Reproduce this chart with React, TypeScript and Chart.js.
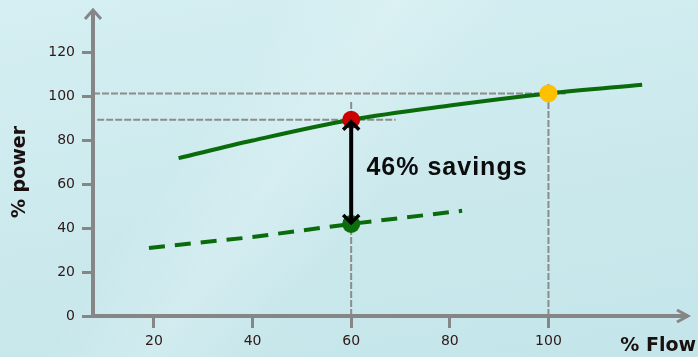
import React, { useEffect, useRef } from "react";
import { Chart, registerables } from "chart.js";

Chart.register(...registerables);

// Throttled (valve) operation: % power against % flow
const flowThrottle = [25, 40, 60, 80, 100, 119];
const powerThrottle = [72, 80, 89.5, 96, 101.5, 105.5];

// Variable-speed operation: % power against % flow
const flowVsd = [19, 40, 60, 82.5];
const powerVsd = [31, 36, 42, 48];

// Marked operating points
const markerFlow = [60, 60, 100];
const markerPower = [89.5, 42, 101.5];
const markerColors = ["#cc0000", "#0b6e0b", "#ffc000"];

const xTicks = [20, 40, 60, 80, 100];
const yTicks = [0, 20, 40, 60, 80, 100, 120];

const savingsLabel = "46% savings";
const xTitle = "% Flow";
const yTitle = "% power";

const GREEN = "#0a6b0a";
const AXIS = "#868686";
const TICK_TEXT = "#2e1818";

const overlay = {
  id: "overlay",
  beforeDatasetsDraw(chart: any) {
    const { ctx } = chart;
    const xs = chart.scales.x;
    const ys = chart.scales.y;
    const ca = chart.chartArea;
    ctx.save();
    // dashed reference lines
    ctx.strokeStyle = "#8c8c8c";
    ctx.lineWidth = 2;
    ctx.setLineDash([7, 2]);
    const seg = (x1: number, y1: number, x2: number, y2: number) => {
      ctx.beginPath();
      ctx.moveTo(xs.getPixelForValue(x1), ys.getPixelForValue(y1));
      ctx.lineTo(xs.getPixelForValue(x2), ys.getPixelForValue(y2));
      ctx.stroke();
    };
    seg(xs.min, markerPower[2], 103.5, markerPower[2]);
    seg(8.5, markerPower[0], 69, markerPower[0]);
    seg(markerFlow[0], 0, markerFlow[0], 98);
    seg(markerFlow[2], 0, markerFlow[2], 106);
    ctx.setLineDash([]);

    // axes with arrowheads
    ctx.strokeStyle = AXIS;
    ctx.lineWidth = 4;
    ctx.lineCap = "butt";
    ctx.beginPath();
    ctx.moveTo(ca.left, ca.bottom + 2);
    ctx.lineTo(ca.left, ca.top + 1);
    ctx.moveTo(ca.left - 2, ca.bottom);
    ctx.lineTo(ca.right - 1, ca.bottom);
    ctx.stroke();
    ctx.lineWidth = 3;
    ctx.lineJoin = "miter";
    ctx.beginPath();
    ctx.moveTo(ca.left - 8, ca.top + 10);
    ctx.lineTo(ca.left, ca.top + 1);
    ctx.lineTo(ca.left + 8, ca.top + 10);
    ctx.moveTo(ca.right - 12, ca.bottom - 6);
    ctx.lineTo(ca.right - 1, ca.bottom);
    ctx.lineTo(ca.right - 12, ca.bottom + 6);
    ctx.stroke();
    ctx.restore();
  },
  afterDatasetsDraw(chart: any) {
    const { ctx } = chart;
    const xs = chart.scales.x;
    const ys = chart.scales.y;
    ctx.save();
    // double-headed arrow between the two operating points
    const ax = xs.getPixelForValue(markerFlow[0]);
    const top = ys.getPixelForValue(markerPower[0]) + 2;
    const bot = ys.getPixelForValue(markerPower[1]) - 1;
    ctx.strokeStyle = "#000";
    ctx.lineWidth = 4;
    ctx.lineCap = "butt";
    ctx.beginPath();
    ctx.moveTo(ax, top + 2);
    ctx.lineTo(ax, bot - 2);
    ctx.stroke();
    ctx.lineWidth = 3.5;
    ctx.beginPath();
    ctx.moveTo(ax - 8, top + 8);
    ctx.lineTo(ax, top);
    ctx.lineTo(ax + 8, top + 8);
    ctx.moveTo(ax - 8, bot - 8);
    ctx.lineTo(ax, bot);
    ctx.lineTo(ax + 8, bot - 8);
    ctx.stroke();

    // annotation text
    ctx.fillStyle = "#0c0c0c";
    ctx.font = "bold 25px 'Liberation Sans', Arial, sans-serif";
    (ctx as any).letterSpacing = "1px";
    ctx.textAlign = "left";
    ctx.textBaseline = "middle";
    ctx.fillText(savingsLabel, xs.getPixelForValue(63.1), ys.getPixelForValue(67.3));
    (ctx as any).letterSpacing = "0px";

    // axis titles
    ctx.fillStyle = "#1a1010";
    ctx.font = "bold 19px 'DejaVu Sans', sans-serif";
    ctx.textAlign = "right";
    ctx.textBaseline = "middle";
    ctx.fillText(xTitle, 696, 346);
    ctx.translate(20, 172);
    ctx.rotate(-Math.PI / 2);
    ctx.textAlign = "center";
    ctx.fillText(yTitle, 0, 0);
    ctx.restore();
  },
};

export default function App() {
  const ref = useRef<HTMLCanvasElement | null>(null);

  useEffect(() => {
    if (!ref.current) return;
    const chart = new Chart(ref.current, {
      type: "line",
      data: {
        datasets: [
          {
            label: "Throttled",
            data: flowThrottle.map((x, i) => ({ x, y: powerThrottle[i] })),
            borderColor: GREEN,
            borderWidth: 4,
            pointRadius: 0,
            cubicInterpolationMode: "monotone",
            order: 3,
          },
          {
            label: "Variable speed",
            data: flowVsd.map((x, i) => ({ x, y: powerVsd[i] })),
            borderColor: GREEN,
            borderWidth: 4,
            borderDash: [16, 10],
            pointRadius: 0,
            order: 2,
          },
          {
            label: "Operating points",
            data: markerFlow.map((x, i) => ({ x, y: markerPower[i] })),
            showLine: false,
            pointRadius: 9,
            pointBackgroundColor: markerColors,
            pointBorderWidth: 0,
            order: 1,
          },
        ],
      },
      options: {
        animation: false,
        responsive: true,
        maintainAspectRatio: false,
        layout: { padding: { top: 8, right: 8, left: 0, bottom: 0 } },
        plugins: { legend: { display: false }, tooltip: { enabled: false } },
        scales: {
          x: {
            type: "linear",
            min: 7.65,
            max: 128.5,
            afterFit: (s: any) => {
              s.height = 41;
              s.paddingLeft = 0;
              s.paddingRight = 0;
            },
            afterBuildTicks: (s: any) => {
              s.ticks = xTicks.map((v) => ({ value: v }));
            },
            border: { display: false },
            grid: {
              drawOnChartArea: false,
              drawTicks: true,
              tickLength: 12,
              tickColor: AXIS,
              lineWidth: 3,
            },
            ticks: {
              padding: 5,
              color: TICK_TEXT,
              font: { family: "'DejaVu Sans', sans-serif", size: 14 },
              maxRotation: 0,
            },
          },
          y: {
            type: "linear",
            min: 0,
            max: 140,
            afterFit: (s: any) => {
              s.width = 93;
              s.paddingTop = 0;
              s.paddingBottom = 0;
            },
            afterBuildTicks: (s: any) => {
              s.ticks = yTicks.map((v) => ({ value: v }));
            },
            border: { display: false },
            grid: {
              drawOnChartArea: false,
              drawTicks: true,
              tickLength: 11,
              tickColor: AXIS,
              lineWidth: 3,
            },
            ticks: {
              padding: 7,
              color: TICK_TEXT,
              font: { family: "'DejaVu Sans', sans-serif", size: 14 },
            },
          },
        },
      },
      plugins: [overlay],
    } as any);
    return () => chart.destroy();
  }, []);

  return (
    <div
      style={{
        position: "fixed",
        left: 0,
        top: 0,
        width: 698,
        height: 357,
        background:
          "linear-gradient(125deg, rgba(255,255,255,0) 30%, rgba(255,255,255,0.18) 42%, rgba(255,255,255,0) 55%), linear-gradient(170deg, #d5eff2 0%, #cbe9ed 55%, #c3e5e9 100%)",
      }}
    >
      <canvas ref={ref} width={698} height={357} />
    </div>
  );
}
